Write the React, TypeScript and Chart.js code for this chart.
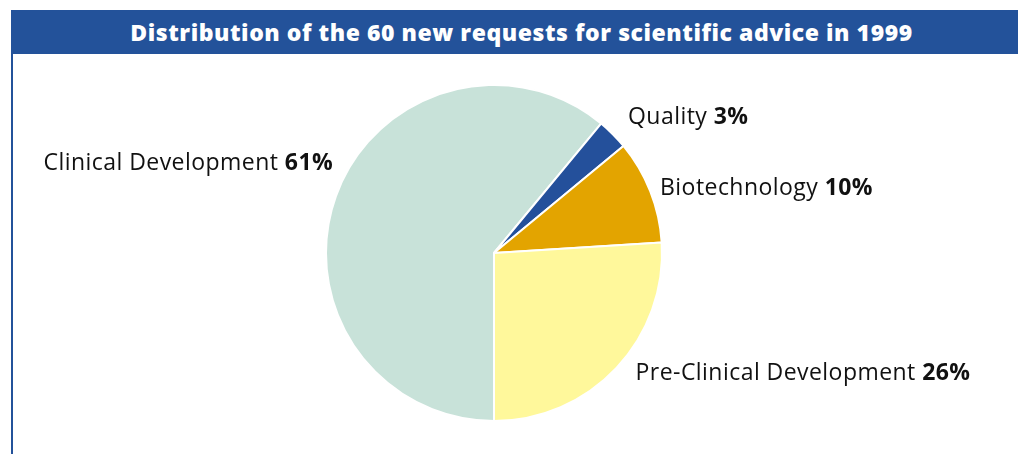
import React, { useEffect, useRef } from "react";
import { Chart, registerables } from "chart.js";

Chart.register(...registerables);

const TITLE = "Distribution of the 60 new requests for scientific advice in 1999";
const categories = ["Clinical Development", "Quality", "Biotechnology", "Pre-Clinical Development"];
const shares = [61, 3, 10, 26];
const sliceColors = ["#c8e2d9", "#24509b", "#e3a400", "#fff89b"];

// label placement relative to each slice: angle tweak (deg) and radial factor
const labelAngleTweak = [9.7, -0.6, 0, -3.2];
const labelRadiusFactor = [1.1, 1.14, 1.063, 1.1];

const FONT = "'Open Sans', Lato, sans-serif";
const BLUE = "#23529a";
const LABEL_SIZE = 23;
const TEXT_NUDGE_Y = 1.5;

const labelPlugin = {
  id: "sliceLabels",
  afterDatasetsDraw(chart: any) {
    const ctx = chart.ctx;
    const meta = chart.getDatasetMeta(0);
    meta.data.forEach((arc: any, i: number) => {
      const p = arc.getProps(["x", "y", "startAngle", "endAngle", "outerRadius"], true);
      const mid = (p.startAngle + p.endAngle) / 2 + (labelAngleTweak[i] * Math.PI) / 180;
      const r = p.outerRadius * labelRadiusFactor[i];
      const ax = p.x + Math.cos(mid) * r;
      const ay = p.y + Math.sin(mid) * r + TEXT_NUDGE_Y;
      const name = categories[i] + " ";
      const pct = shares[i] + "%";
      ctx.save();
      ctx.fillStyle = "#111";
      ctx.textBaseline = "middle";
      (ctx as any).letterSpacing = "0.45px";
      ctx.font = `${LABEL_SIZE}px ${FONT}`;
      const w1 = ctx.measureText(name).width;
      ctx.font = `bold ${LABEL_SIZE}px ${FONT}`;
      const w2 = ctx.measureText(pct).width;
      const leftSide = Math.cos(mid) < 0;
      const x0 = leftSide ? ax - (w1 + w2) : ax;
      ctx.textAlign = "left";
      ctx.font = `${LABEL_SIZE}px ${FONT}`;
      ctx.fillText(name, x0, ay);
      ctx.font = `bold ${LABEL_SIZE}px ${FONT}`;
      ctx.fillText(pct, x0 + w1, ay);
      ctx.restore();
    });
  },
};

export default function App() {
  const ref = useRef<HTMLCanvasElement>(null);
  useEffect(() => {
    document.body.style.margin = "0";
    const chart = new Chart(ref.current!, {
      type: "pie",
      data: {
        labels: categories,
        datasets: [
          {
            data: shares,
            backgroundColor: sliceColors,
            borderColor: "#ffffff",
            borderWidth: 2,
          },
        ],
      },
      options: {
        animation: false,
        responsive: false,
        rotation: 180,
        layout: { padding: { left: 325, right: 355, top: 84, bottom: 32 } },
        plugins: {
          legend: { display: false },
          tooltip: { enabled: false },
          title: { display: false },
        },
      },
      plugins: [labelPlugin],
    });
    return () => chart.destroy();
  }, []);

  return (
    <div style={{ position: "relative", width: 1018, height: 454, background: "#fff", overflow: "hidden" }}>
      <div
        style={{
          position: "absolute",
          left: 11,
          top: 10,
          width: 1007,
          height: 44,
          background: BLUE,
          color: "#fff",
          fontFamily: FONT,
          fontWeight: 800,
          fontSize: 23,
          letterSpacing: 0.55,
          display: "flex",
          alignItems: "center",
          justifyContent: "center",
          paddingLeft: 14,
          boxSizing: "border-box",
        }}
      >
        {TITLE}
      </div>
      <div style={{ position: "absolute", left: 11, top: 10, width: 2, height: 444, background: BLUE }} />
      <canvas ref={ref} width={1018} height={454} style={{ position: "absolute", left: 0, top: 0 }} />
    </div>
  );
}
